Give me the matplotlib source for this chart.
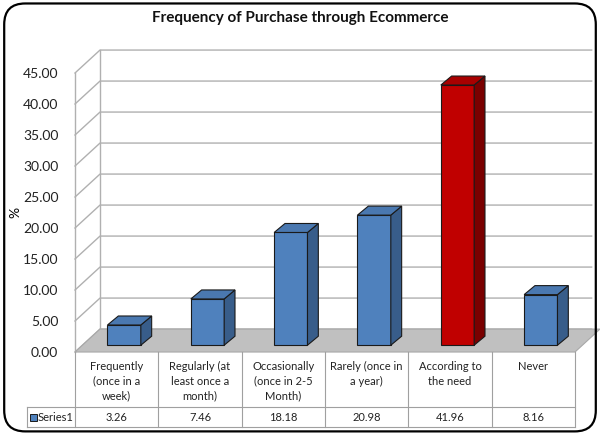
import matplotlib.pyplot as plt
from matplotlib.patches import Polygon, FancyBboxPatch, Rectangle

plt.rcParams['font.family'] = ['Lato', 'DejaVu Sans']

categories = ["Frequently\n(once in a\nweek)", "Regularly (at\nleast once a\nmonth)",
              "Occasionally\n(once in 2-5\nMonth)", "Rarely (once in\na year)",
              "According to\nthe need", "Never"]
values = [3.26, 7.46, 18.18, 20.98, 41.96, 8.16]
value_labels = ["3.26", "7.46", "18.18", "20.98", "41.96", "8.16"]
yticks = [0, 5, 10, 15, 20, 25, 30, 35, 40, 45]
series_name = "Series1"

# 3d look (in data units)
wall_dx, wall_dy = 0.30, 3.7
bar_sx, bar_sy = 0.09, 1.1
bar_dx, bar_dy = 0.13, 1.45
bar_w = 0.40

fig = plt.figure(figsize=(6, 4.34), dpi=100)
ax = fig.add_axes([0.125, 0.1889, 0.8333, 0.6429])
ax.set_xlim(0, 6)
ax.set_ylim(0, 45)
for s in ax.spines.values():
    s.set_visible(False)
ax.set_xticks([])
ax.set_yticks(yticks)
ax.set_yticklabels(["%.2f" % t for t in yticks], fontsize=10, color='#222222')
ax.tick_params(axis='y', length=0, pad=12)
ax.set_ylabel("%", fontsize=10, labelpad=1)
ax.patch.set_visible(False)

grid = '#b0b0b0'
n = len(values)
# floor
ax.add_patch(Polygon([(0, 0), (n, 0), (n + wall_dx, wall_dy), (wall_dx, wall_dy)],
                     closed=True, facecolor='#c0c0c0', edgecolor='#a8a8a8', lw=0.8, clip_on=False, zorder=1))
# walls + gridlines
for t in yticks:
    ax.plot([0, wall_dx, n + wall_dx - 0.1], [t, t + wall_dy, t + wall_dy], color=grid, lw=1, clip_on=False, zorder=0.5)
ax.plot([0, 0], [0, 45], color=grid, lw=1, clip_on=False, zorder=0.5)
ax.plot([wall_dx, wall_dx], [wall_dy, 45 + wall_dy], color=grid, lw=1, clip_on=False, zorder=0.5)

# bars
for i, v in enumerate(values):
    if i == 4:
        front, side, top = '#c00000', '#7a0000', '#a80000'
    else:
        front, side, top = '#4f81bd', '#385d8a', '#4a78b0'
    x0 = i + 0.5 - bar_w / 2 + bar_sx
    x1 = x0 + bar_w
    y0 = bar_sy
    y1 = v + bar_sy
    ec = '#1a1a1a'
    ax.add_patch(Polygon([(x0, y0), (x1, y0), (x1, y1), (x0, y1)], closed=True,
                         facecolor=front, edgecolor=ec, lw=0.8, clip_on=False, zorder=3))
    ax.add_patch(Polygon([(x1, y0), (x1 + bar_dx, y0 + bar_dy), (x1 + bar_dx, y1 + bar_dy), (x1, y1)],
                         closed=True, facecolor=side, edgecolor=ec, lw=0.8, clip_on=False, zorder=3))
    ax.add_patch(Polygon([(x0, y1), (x1, y1), (x1 + bar_dx, y1 + bar_dy), (x0 + bar_dx, y1 + bar_dy)],
                         closed=True, facecolor=top, edgecolor=ec, lw=0.8, clip_on=False, zorder=3))

# data table
tr = ax.get_xaxis_transform()
row1 = -55 / 279.0
row2 = -75 / 279.0
leg_x = -0.576
tc = '#a0a0a0'
for i in range(n + 1):
    ax.plot([i, i], [0, row2], color=tc, lw=0.8, transform=tr, clip_on=False)
ax.plot([0, n], [row1, row1], color=tc, lw=0.8, transform=tr, clip_on=False)
ax.plot([leg_x, n], [row2, row2], color=tc, lw=0.8, transform=tr, clip_on=False)
ax.plot([leg_x, 0], [row1, row1], color=tc, lw=0.8, transform=tr, clip_on=False)
ax.plot([leg_x, leg_x], [row1, row2], color=tc, lw=0.8, transform=tr, clip_on=False)
for i, c in enumerate(categories):
    ax.text(i + 0.5, -9 / 279.0, c, transform=tr, ha='center', va='top', fontsize=8,
            linespacing=1.4, color='#222222')
    ax.text(i + 0.5, (row1 + row2) / 2, value_labels[i], transform=tr, ha='center', va='center',
            fontsize=8, color='#222222')
ax.add_patch(Rectangle((leg_x + 0.04, (row1 + row2) / 2 - 3.5 / 279), 0.08, 7 / 279, transform=tr,
                       facecolor='#4f81bd', edgecolor='#1a1a1a', lw=0.7, clip_on=False))
ax.text(leg_x + 0.13, (row1 + row2) / 2, series_name, transform=tr, ha='left', va='center',
        fontsize=8, color='#222222')

fig.text(0.5, 0.958, "Frequency of Purchase through Ecommerce", ha='center', va='center',
         fontsize=11, fontweight='bold', color='#111111')

fig.patches.append(FancyBboxPatch((0.007, 0.006), 0.986, 0.986, boxstyle='round,pad=0,rounding_size=0.035',
                                  mutation_aspect=600 / 434, transform=fig.transFigure,
                                  facecolor='none', edgecolor='black', lw=1.6))

fig.savefig('out.png', dpi=100)
